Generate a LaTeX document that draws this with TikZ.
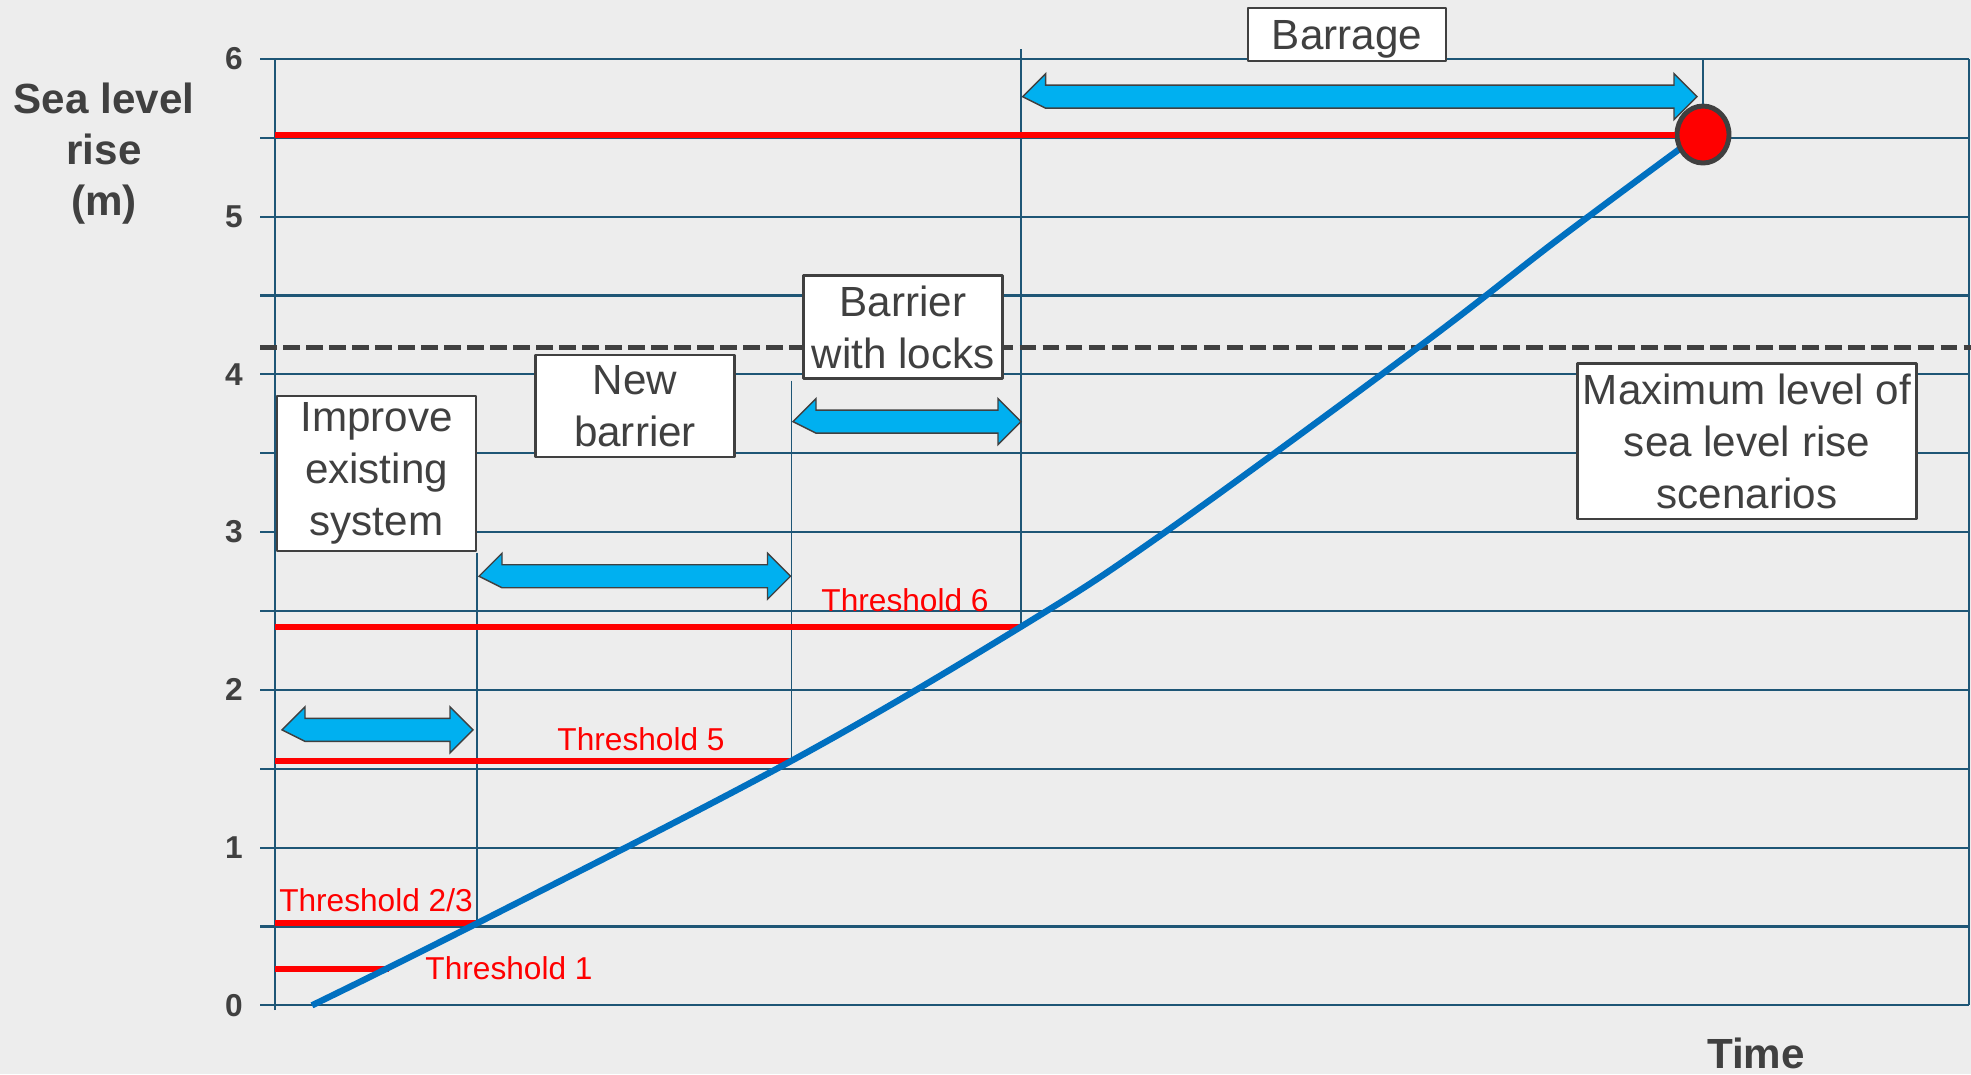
\documentclass[tikz,border=0pt]{standalone}
\usepackage{fontspec}
\setmainfont{Liberation Sans}
\usepackage{tikz}
\usetikzlibrary{
  calc,
  shapes.geometric
}
\definecolor{bggray}{RGB}{237,237,237}
\definecolor{gridblue}{RGB}{30,86,118}
\definecolor{txtgray}{RGB}{64,64,64}
\definecolor{arrblue}{RGB}{0,176,240}
\definecolor{curveblue}{RGB}{0,112,192}
\tikzset{
  gridln/.style={color=gridblue,line width=0.6pt},
  thinln/.style={color=gridblue,line width=0.5pt},
  threshln/.style={color=red,line width=1.7pt},
  threshlbl/.style={text=red,inner sep=0pt,font=\fontsize{9}{10}\selectfont},
  optbox/.style={draw=txtgray,fill=white,line width=0.7pt,text=txtgray,align=center,inner sep=0pt,font=\fontsize{12}{14.8}\selectfont},
  bluearr/.style={draw=txtgray,fill=arrblue,line width=0.4pt,line join=miter},
  ticklbl/.style={text=txtgray,inner sep=0pt,font=\fontsize{9}{10}\selectfont\bfseries},
  axislbl/.style={text=txtgray,align=center,inner sep=0pt,font=\fontsize{12}{14.5}\selectfont\bfseries}
}
% double headed block arrow: left x, right x, height
\newcommand{\dblarr}[3]{%
  \draw[bluearr] (#1,#3) -- ++(0.23cm,0.23cm) -- ++(0,-0.115cm)
    -- ([shift={(-0.23cm,0.115cm)}]#2,#3) -- ++(0,0.115cm) -- (#2,#3)
    -- ++(-0.23cm,-0.23cm) -- ++(0,0.115cm)
    -- ([shift={(0.23cm,-0.115cm)}]#1,#3) -- cycle;}
\begin{document}
\begin{tikzpicture}[line cap=butt,line join=round,x=1cm,y=1.5775cm]
\fill[bggray] (-2.75,-0.4375) rectangle (16.96,6.373);
\useasboundingbox (-2.75,-0.4375) rectangle (16.96,6.373);
% grid
\foreach \yy in {0,0.5,1,1.5,2,2.5,3,3.5,4,4.5,5,5.5,6}
  \draw[gridln] (-0.15,\yy) -- (16.94,\yy);
\draw[gridln] (0,-0.03) -- (0,6);
\draw[gridln] (16.94,0) -- (16.94,6);
\foreach \yy in {0,...,6}
  \node[ticklbl] (tick\yy) at (-0.41,\yy) {\yy};
\node[axislbl] (ylabel) at (-1.71,5.40) {Sea level\\rise\\(m)};
\node[axislbl] (xlabel) at (14.81,-0.305) {Time};
% switch times
\draw[thinln] (2.02,2.87) -- (2.02,0.52);
\draw[thinln] (5.165,3.96) -- (5.165,1.55);
\draw[thinln] (7.46,6.06) -- (7.46,2.40);
% scenario maximum
\draw[color=txtgray,line width=1.4pt,dash pattern=on 4.7pt off 1.85pt] (-0.15,4.17) -- (16.96,4.17);
% thresholds
\draw[threshln] (0,0.23) -- (1.14,0.23);
\draw[threshln] (0,0.52) -- (2.02,0.52);
\draw[threshln] (0,1.55) -- (5.165,1.55);
\draw[threshln] (0,2.40) -- (7.46,2.40);
\node[threshlbl] (thr1) at (2.34,0.235) {Threshold 1};
\node[threshlbl] (thr23) at (1.01,0.666) {Threshold 2/3};
\node[threshlbl] (thr5) at (3.66,1.69) {Threshold 5};
\node[threshlbl] (thr6) at (6.30,2.57) {Threshold 6};
% sea level rise
\draw[curveblue,line width=1.8pt] plot[smooth,tension=0.6] coordinates {(0.37,0) (2.02,0.52) (5.165,1.55) (7.46,2.40) (8.88,2.99) (11.45,4.18) (12.84,4.86) (14.2,5.5)};
\dblarr{0.07}{1.98}{1.746}
\dblarr{2.04}{5.155}{2.72}
\dblarr{5.18}{7.46}{3.70}
\dblarr{7.476}{14.22}{5.76}
\node[ellipse,draw=txtgray,fill=red,line width=1.4pt,inner sep=0pt,minimum width=0.52cm,minimum height=0.57cm] (maxpt) at (14.28,5.52) {};
\draw[threshln] (0,5.52) -- (maxpt.west);
\draw[thinln] (maxpt.north) -- (maxpt.north |- 0,6);
% options
\node[optbox,minimum width=1.99cm,minimum height=1.55cm] (improve) at (1.015,3.37) {Improve\\existing\\system};
\node[optbox,minimum width=1.99cm,minimum height=1.02cm] (newbar) at (3.60,3.80) {New\\barrier};
\node[optbox,minimum width=1.99cm,minimum height=1.03cm] (locks) at (6.28,4.30) {Barrier\\with locks};
\node[optbox,minimum width=1.98cm,minimum height=0.53cm,text depth=0pt] (barrage) at (10.72,6.153) {Barrage};
\node[optbox,minimum width=3.39cm,minimum height=1.555cm] (maxlvl) at (14.72,3.576) {Maximum level of\\sea level rise\\scenarios};
\end{tikzpicture}
\end{document}
